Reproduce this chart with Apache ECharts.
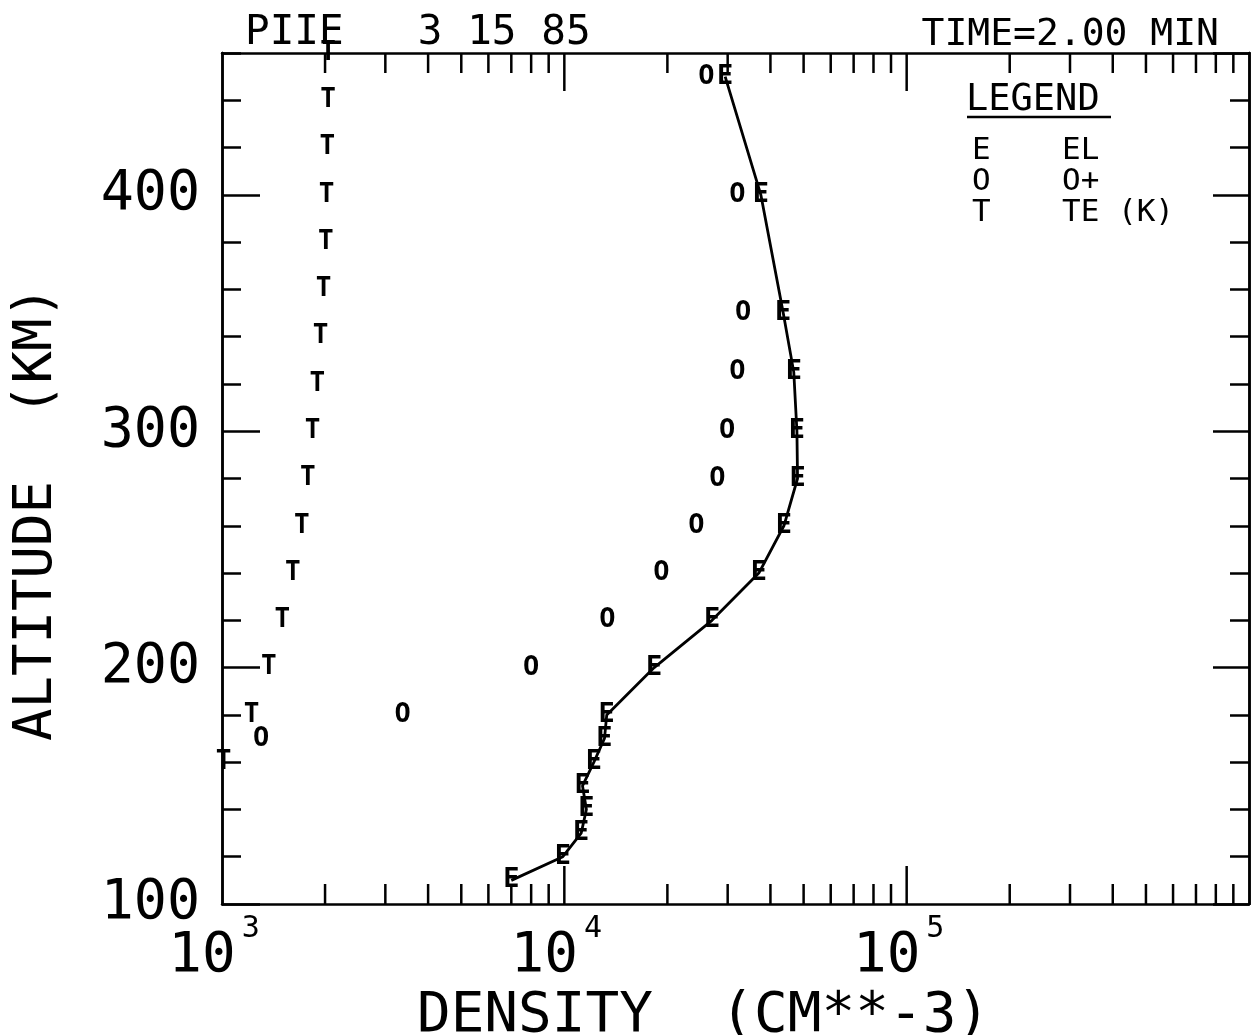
<!DOCTYPE html>
<html><head><meta charset="utf-8">
<script src="https://cdn.jsdelivr.net/npm/echarts@6/dist/echarts.min.js"></script>
<style>html,body{margin:0;padding:0;background:#fff}#c{width:1259px;height:1035px}</style>
</head><body><div id="c"></div>
<script>
// ---------- data ----------
const altEl   = [110, 120, 130, 140, 150, 160, 170, 180, 200, 220, 240, 260, 280, 300, 325, 350, 400, 450];
const densEl  = [7000, 9900, 11200, 11600, 11300, 12200, 13100, 13300, 18300, 27000, 37000, 43800, 48000, 47800, 46800, 43600, 37500, 29500];
const altOp   = [170, 180, 200, 220, 240, 260, 280, 300, 325, 350, 400, 450];
const densOp  = [1300, 3370, 8000, 13350, 19200, 24300, 28000, 29900, 32000, 33300, 32000, 26000];
const altTe   = [160, 180, 200, 220, 240, 260, 280, 300, 320, 340, 360, 380, 400, 420, 440, 460];
const tempTe  = [1010, 1220, 1370, 1500, 1610, 1710, 1780, 1840, 1900, 1940, 1980, 2010, 2020, 2030, 2040, 2040];

const seriesNames   = ['EL', 'O+', 'TE (K)'];
const seriesLetters = ['E', 'O', 'T'];

const yTickLabels = [100, 200, 300, 400];
const xLabelExponents = [3, 4, 5];
const majorDensityTicks = [10000, 100000];
const minorDensityTicks = [2000, 3000, 4000, 5000, 6000, 7000, 8000, 9000,
                           20000, 30000, 40000, 50000, 60000, 70000, 80000, 90000,
                           200000, 300000, 400000, 500000, 600000, 700000, 800000, 900000];

const Y_MIN = 100, Y_MAX = 460, X_MIN = 1000, X_MAX = 1000000;

// ---------- chart ----------
const FONT = '"DejaVu Sans Mono", monospace';
const BLACK = '#000';
const chart = echarts.init(document.getElementById('c'), null, { renderer: 'canvas' });

const zip = (xs, ys) => xs.map((x, i) => [x, ys[i]]);
const letterLabel = (letter, size) => ({
  show: true, position: 'inside', formatter: letter,
  fontFamily: FONT, fontSize: size, fontWeight: 'bold', color: BLACK,
  textBorderWidth: 0, opacity: 1
});
const hiddenSymbol = { color: 'rgba(0,0,0,0)', opacity: 1 };

const axisLineStyle = { color: BLACK, width: 2.5 };

function yAxisCfg(position, interval, tickLen, withLabels) {
  return {
    type: 'value', position, min: Y_MIN, max: Y_MAX, interval,
    axisLine: { show: true, lineStyle: axisLineStyle },
    axisTick: { show: true, inside: true, length: tickLen, lineStyle: { color: BLACK, width: 2.5 } },
    splitLine: { show: false },
    axisLabel: withLabels ? {
      show: true, margin: 22, fontFamily: FONT, fontSize: 55, color: BLACK,
      showMaxLabel: false,
      formatter: v => (yTickLabels.indexOf(v) >= 0 ? String(v) : '')
    } : { show: false }
  };
}

const xTickData = minorDensityTicks.map(v => [v, 0]).concat(majorDensityTicks.map(v => [v, 1]));

const option = {
  animation: false,
  backgroundColor: '#fff',
  title: [
    { text: 'PIIE   3 15 85', left: 245, top: 13, padding: 0,
      textStyle: { fontFamily: FONT, fontSize: 41, fontWeight: 'normal', color: BLACK } },
    { text: 'TIME=2.00 MIN', right: 40, top: 16, padding: 0,
      textStyle: { fontFamily: FONT, fontSize: 38, fontWeight: 'normal', color: BLACK } }
  ],
  grid: { left: 222, right: 10, top: 53, bottom: 131, containLabel: false, outerBoundsMode: 'none' },
  legend: {
    show: true, orient: 'vertical', left: 962, top: 130,
    data: seriesNames, icon: 'none', itemWidth: 0, itemHeight: 0, itemGap: 0,
    selectedMode: false,
    formatter: name => '{s|' + seriesLetters[seriesNames.indexOf(name)] + '}{n|' + name + '}',
    textStyle: {
      color: BLACK, fontFamily: FONT, fontSize: 31,
      rich: {
        s: { width: 90, fontFamily: FONT, fontSize: 31, lineHeight: 29, color: BLACK },
        n: { fontFamily: FONT, fontSize: 31, lineHeight: 29, color: BLACK }
      }
    }
  },
  graphic: [
    { type: 'text', left: 966, top: 82,
      style: { text: 'LEGEND', font: '37px ' + FONT, fill: BLACK } },
    { type: 'line', shape: { x1: 967, y1: 117, x2: 1111, y2: 117 },
      style: { stroke: BLACK, lineWidth: 2.5 } }
  ],
  xAxis: [
    {
      type: 'log', logBase: 10, min: X_MIN, max: X_MAX, position: 'bottom',
      name: 'DENSITY  (CM**-3)', nameLocation: 'middle', nameGap: 73,
      nameTextStyle: { fontFamily: FONT, fontSize: 56, color: BLACK, padding: [0, 64, 0, 0] },
      axisLine: { show: true, lineStyle: axisLineStyle },
      axisTick: { show: false }, splitLine: { show: false }, minorTick: { show: false },
      axisLabel: {
        show: true, margin: 8, showMaxLabel: false,
        formatter: v => {
          const e = Math.round(Math.log10(v));
          return xLabelExponents.indexOf(e) >= 0 ? '{b|10}{e|' + e + '}' : '';
        },
        rich: {
          b: { fontFamily: FONT, fontSize: 56, color: BLACK, padding: [16, 0, 0, 0] },
          e: { fontFamily: FONT, fontSize: 30, color: BLACK, verticalAlign: 'top', padding: [2, 16, 0, 6] }
        }
      }
    },
    {
      type: 'log', logBase: 10, min: X_MIN, max: X_MAX, position: 'top',
      axisLine: { show: true, lineStyle: axisLineStyle },
      axisTick: { show: false }, axisLabel: { show: false }, splitLine: { show: false }
    }
  ],
  yAxis: [
    Object.assign(yAxisCfg('left', 20, 19, false), {
      name: 'ALTITUDE  (KM)', nameLocation: 'middle', nameGap: 158, nameRotate: 90,
      nameTextStyle: { fontFamily: FONT, fontSize: 54, color: BLACK, padding: [0, 70, 0, 0] }
    }),
    yAxisCfg('left', 100, 38, true),
    yAxisCfg('right', 20, 19, false),
    yAxisCfg('right', 100, 36, false)
  ],
  series: [
    {
      type: 'custom', name: 'ticks', xAxisIndex: 0, yAxisIndex: 0, silent: true, clip: false, z: 5,
      data: xTickData,
      renderItem: (params, api) => {
        const x = api.coord([api.value(0), Y_MIN])[0];
        const cs = params.coordSys;
        const len = api.value(1) ? 38 : 20;
        const st = { stroke: BLACK, lineWidth: 2.5 };
        return { type: 'group', children: [
          { type: 'line', shape: { x1: x, y1: cs.y + cs.height, x2: x, y2: cs.y + cs.height - len }, style: st },
          { type: 'line', shape: { x1: x, y1: cs.y, x2: x, y2: cs.y + len }, style: st }
        ] };
      }
    },
    {
      type: 'line', name: seriesNames[0], xAxisIndex: 0, yAxisIndex: 0,
      data: zip(densEl, altEl),
      symbol: 'circle', symbolSize: 2, showSymbol: true,
      itemStyle: hiddenSymbol,
      lineStyle: { color: BLACK, width: 2.8 },
      label: letterLabel(seriesLetters[0], 27)
    },
    {
      type: 'scatter', name: seriesNames[1], xAxisIndex: 0, yAxisIndex: 0,
      data: zip(densOp, altOp), symbolSize: 2,
      itemStyle: hiddenSymbol,
      label: letterLabel(seriesLetters[1], 27)
    },
    {
      type: 'scatter', name: seriesNames[2], xAxisIndex: 0, yAxisIndex: 0,
      data: zip(tempTe, altTe), symbolSize: 2,
      itemStyle: hiddenSymbol,
      label: letterLabel(seriesLetters[2], 26)
    }
  ]
};
chart.setOption(option);
</script>
</body></html>
